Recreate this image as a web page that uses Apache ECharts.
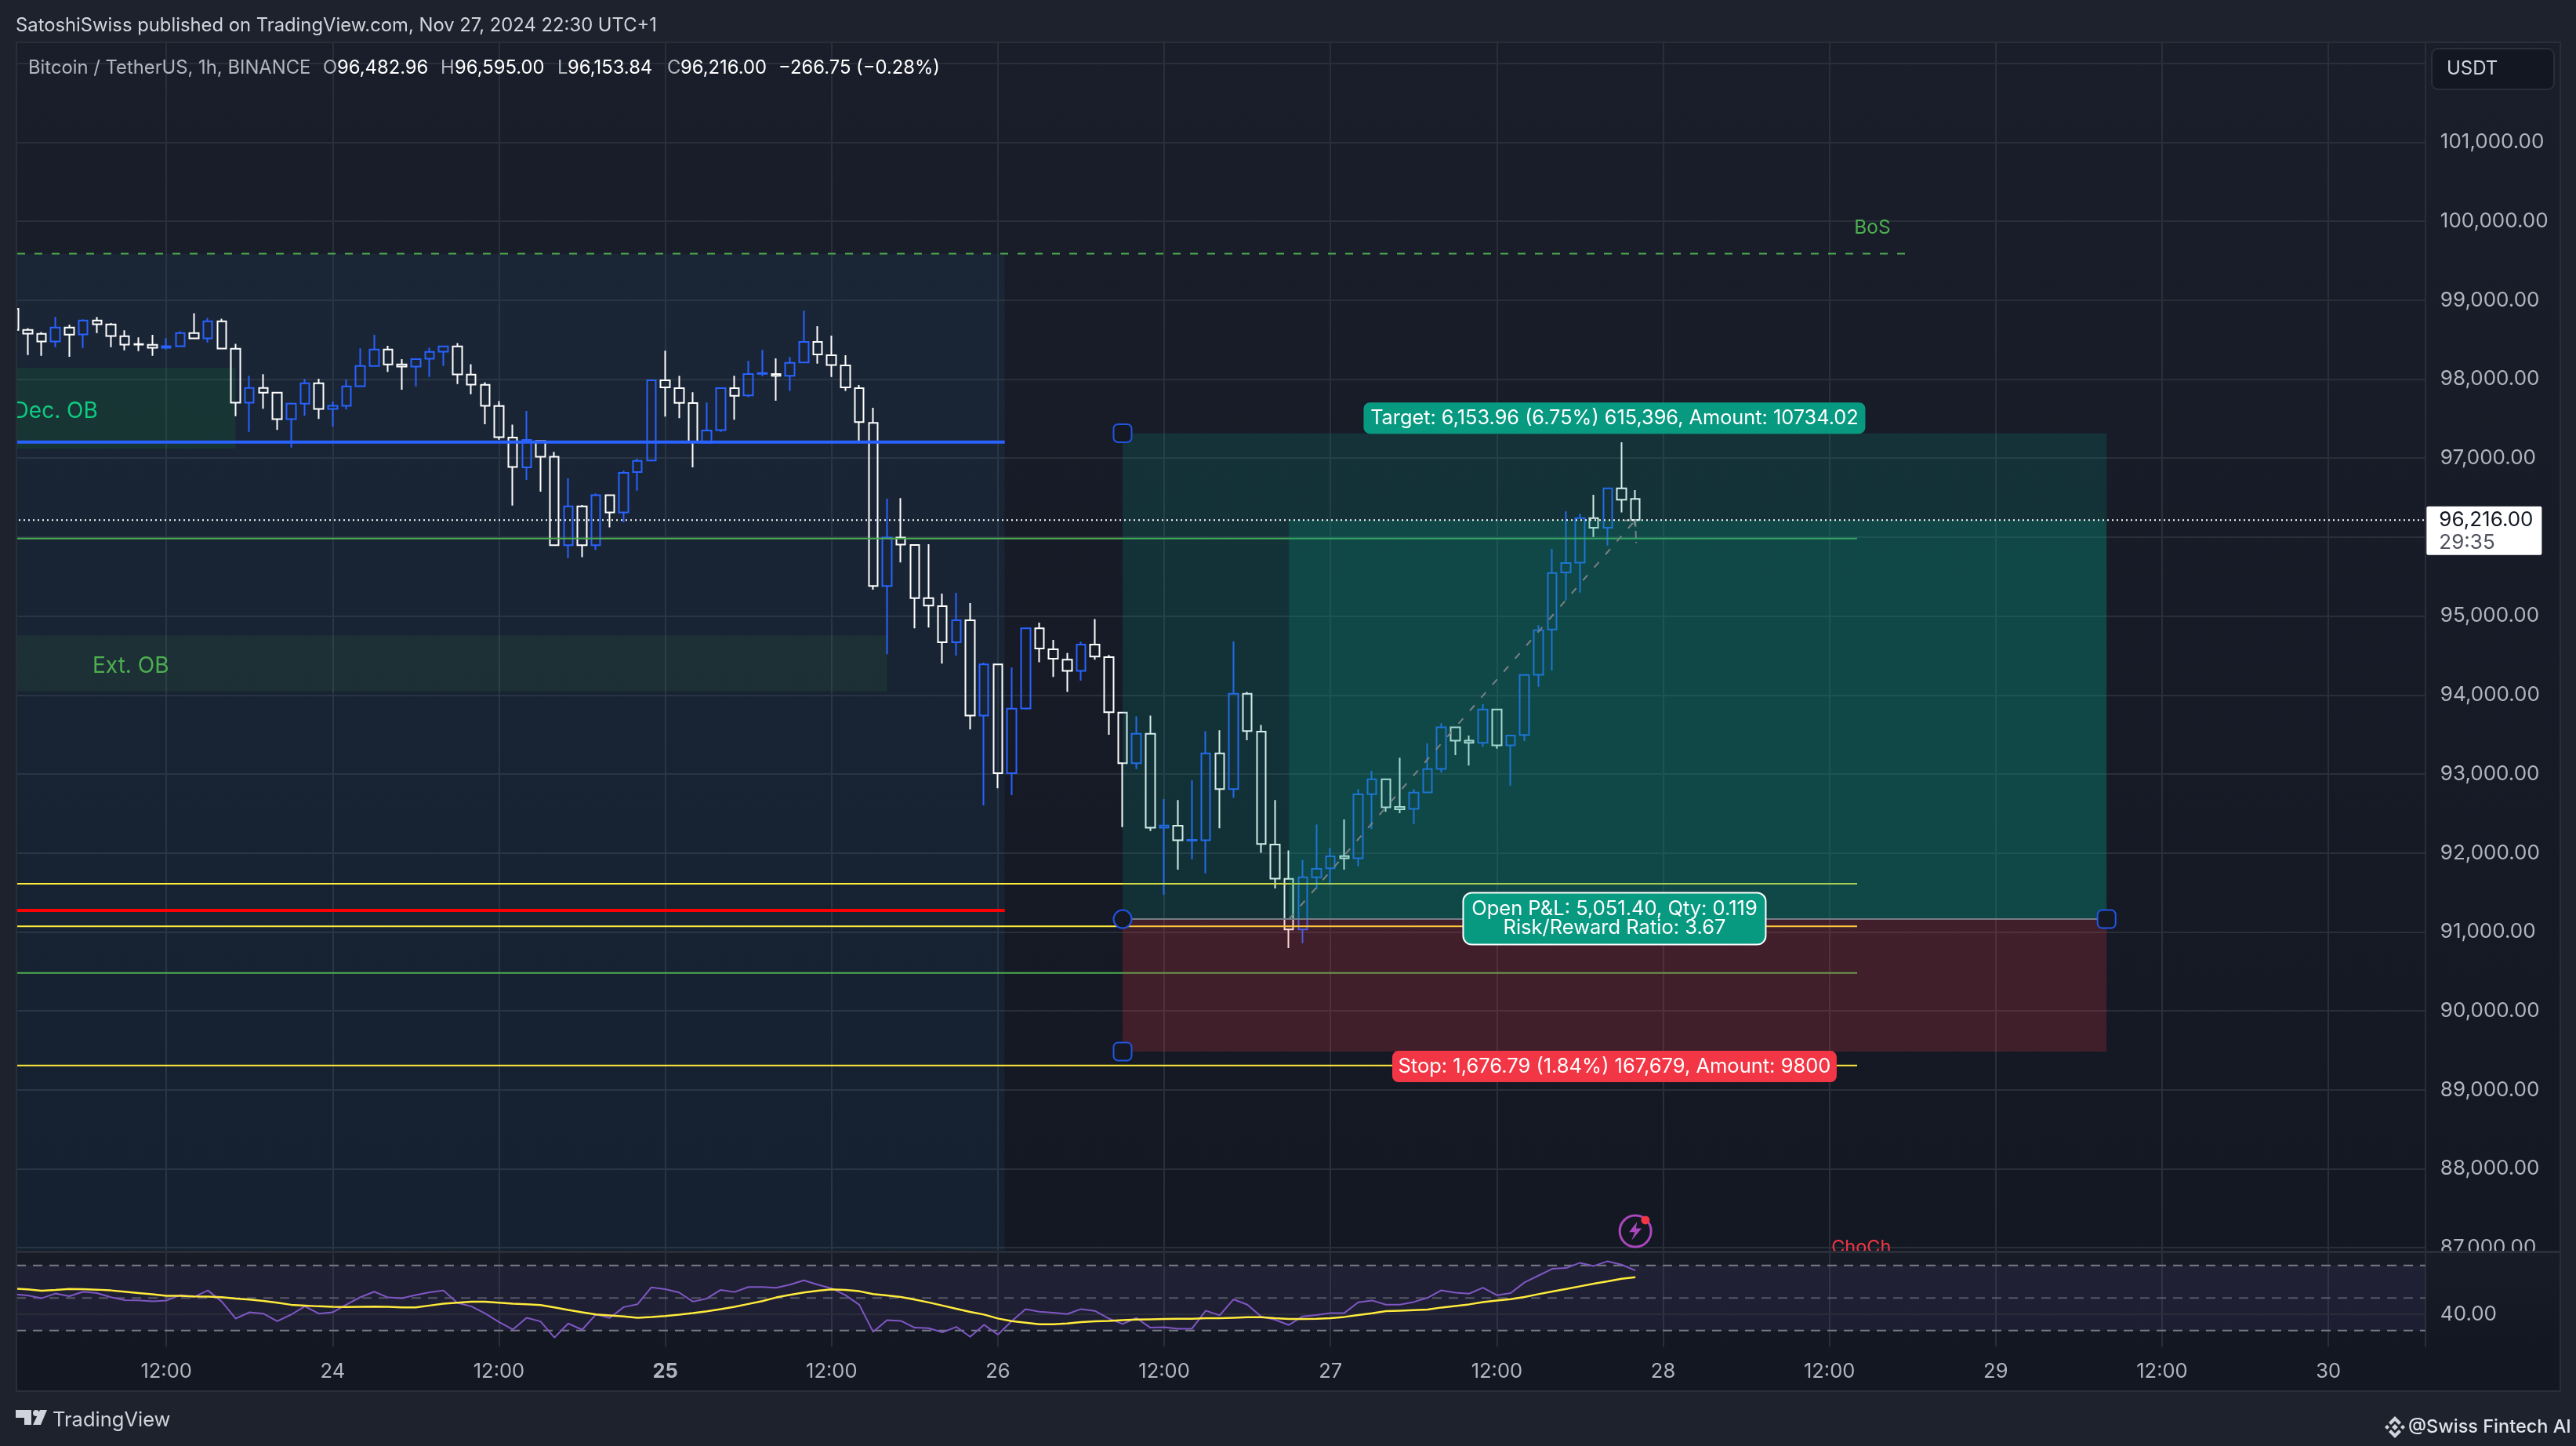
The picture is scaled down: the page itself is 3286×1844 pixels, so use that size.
<!DOCTYPE html>
<html><head><meta charset="utf-8">
<style>html,body{margin:0;padding:0;background:#1e222d}#c{width:3286px;height:1844px}</style>
<script src="https://cdn.jsdelivr.net/npm/echarts@6/dist/echarts.min.js"></script>
</head><body><div id="c"></div>
<script>
// Hours are counted from Nov 23 12:00; first bar index is -11.
const firstHour = -11;
const opens = [98888,98623,98573,98477,98652,98566,98742,98692,98543,98444,98434,98397,98417,98583,98517,98732,98384,97702,97888,97828,97494,97689,97947,97623,97663,97911,98166,98374,98186,98159,98259,98348,98414,98057,97928,97660,97259,96884,97215,97017,95896,96388,95896,96530,96313,96822,96969,97984,97886,97696,97195,97354,97886,97793,98068,98064,98041,98210,98471,98303,98175,97886,97447,95382,95993,95900,95227,95125,94668,94947,93741,94389,93010,93830,94845,94579,94448,94306,94639,94480,93777,93136,93508,92320,92345,92157,92160,93260,92809,94015,93536,92107,91671,91032,91692,91805,91961,91933,92745,92933,92582,92557,92767,93065,93590,93423,93395,93817,93363,93494,94256,94830,95552,95677,96240,96118,96617,96482.96];
const closes = [98623,98576,98477,98652,98563,98742,98695,98547,98437,98437,98397,98417,98583,98517,98732,98388,97702,97888,97828,97494,97689,97947,97623,97663,97908,98166,98374,98186,98159,98252,98345,98414,98060,97931,97663,97266,96888,97230,97017,95896,96388,95896,96530,96313,96813,96964,97984,97895,97700,97208,97350,97886,97789,98064,98077,98041,98205,98471,98312,98179,97895,97456,95382,95993,95905,95227,95133,94668,94947,93741,94389,93010,93826,94845,94588,94459,94306,94639,94487,93781,93136,93508,92320,92348,92160,92167,93260,92809,94015,93543,92114,91674,91032,91692,91798,91958,91933,92742,92933,92579,92554,92763,93061,93590,93423,93395,93817,93363,93487,94253,94820,95545,95671,96240,96118,96617,96472,96216];
const highs = [98900,98646,98596,98788,98689,98758,98788,98709,98619,98530,98560,98520,98606,98834,98775,98765,98447,98043,98063,97828,97702,98004,98004,97716,97994,98391,98560,98421,98252,98252,98397,98414,98457,98189,97961,97722,97424,97598,97215,97079,96743,96406,96552,96530,96840,96991,97984,98361,98041,97833,97704,97886,98041,98232,98369,98263,98281,98866,98671,98551,98303,97926,97638,96485,96494,95900,95909,95284,95293,95164,94411,94389,94349,94845,94916,94699,94533,94675,94962,94508,93777,93731,93739,92682,92671,92919,93540,93554,94678,94040,93621,92671,92032,91912,92359,92064,92423,92806,93040,92933,93207,92809,93387,93643,93600,93487,93884,93817,93487,94253,94884,95849,96323,96296,96535,96617,97200,96595];
const lows = [98610,98305,98295,98404,98282,98394,98583,98404,98364,98354,98295,98374,98417,98517,98464,98388,97530,97332,97626,97358,97133,97537,97497,97398,97616,97911,98166,98093,97865,97908,98027,98166,97937,97808,97428,97232,96398,96725,96574,95896,95736,95745,95834,96122,96188,96587,96969,97527,97505,96884,97195,97332,97487,97771,98037,97727,97851,98210,98197,98028,97851,97208,95333,94517,95679,94845,94854,94397,94499,93564,92602,92819,92731,93817,94415,94229,94040,94182,94448,93497,92327,93061,92277,91468,91788,91919,91741,92313,92696,93426,92001,91550,90795,90858,91539,91593,91788,91830,92302,92522,92504,92366,92767,93018,93238,93107,93345,93320,92852,93416,94104,94310,95197,95297,96002,95892,96313,96153.84];
const rsi = [52.24,51.6,49.84,52.72,51.12,53.84,53.04,50.48,48.72,48.56,47.92,48.4,51.76,50.64,54.64,47.76,37.36,41.2,40.4,35.76,39.76,44.88,40.4,41.2,46,50.48,53.84,50.32,49.84,51.76,53.52,54.64,46.96,44.88,40.56,35.28,30.64,37.84,35.6,25.68,34.32,30.48,39.92,37.68,44.4,46.16,56.56,55.44,53.36,47.76,49.68,54.96,53.68,56.72,56.72,56.24,58.16,60.88,58.16,55.92,51.76,45.84,29.2,36.4,35.92,31.76,31.44,28.88,32.26,26.16,33.55,27.45,35.8,43.18,41.58,40.94,40.13,43.18,42.06,37.4,34.03,37.72,31.78,32.1,31.14,31.14,42.22,39.33,49.13,45.92,38.53,36.6,33.39,38.69,39.49,40.78,40.78,47.36,48.48,45.92,45.92,47.52,50.09,54.75,53.3,52.66,56.35,51.7,52.98,59.56,63.74,67.92,68.4,71.61,69.68,72.57,70.49,66.95];
const rsiMa = [55.76,55.28,54.48,54.96,55.6,55.44,55.12,54.64,53.84,53.04,52.24,51.28,51.28,50.96,50.8,50.48,49.68,49.04,48.24,47.12,45.84,45.36,44.88,44.56,44.4,44.56,44.72,44.56,44.24,44.24,45.36,46.48,47.12,47.76,47.76,47.12,46.48,46.16,45.68,44.24,42.64,41.2,39.92,39.28,38.64,37.84,38.32,38.96,39.76,40.72,41.84,43.12,44.56,46.32,48.08,50.32,51.92,53.36,54.48,55.28,54.96,54.16,52.4,51.6,50.64,49.04,47.28,45.36,43.35,41.42,39.81,37.4,35.8,34.83,33.87,33.87,34.35,35.15,35.64,35.96,36.44,36.76,36.92,37.08,37.24,37.24,37.56,37.56,37.89,38.21,38.21,37.56,37.08,37.08,37.24,37.56,38.37,39.49,40.61,41.9,42.22,42.54,42.86,44.15,45.11,46.08,47.52,48.48,49.29,50.57,52.34,53.95,55.55,57.16,58.76,60.21,61.81,62.78];

const tickHours = [0,12,24,36,48,60,72,84,96,108,120,132,144,156];
const tickLabels = ['12:00','24','12:00','25','12:00','26','12:00','27','12:00','28','12:00','29','12:00','30'];

const lastPrice = 96216;
const entryPrice = 91162, targetPrice = 97316, stopPrice = 89485;
const toolStart = 69, toolFill = 81, toolEnd = 140, lastBar = 106;
const hMin = -12, hMax = 163;

// price levels: price, start hour, end hour
const blueLevel = [97202, hMin, 60.5];
const redLevel = [91272, hMin, 60.5];
const greenLevels = [[95981, hMin, 122],[90480, hMin, 122]];
const yellowLevels = [[91610, hMin, 122],[91072, hMin, 122],[89308, hMin, 122]];
const bosLevel = [99590, hMin, 126];
const trendHours = [81, 106], trendPrices = [91162, 96216];
const arrowHours = [105.2, 106, 106.05], arrowPrices = [96210, 96216, 95924];

// zones: hour from, hour to, price top, price bottom
const bandZone = [hMin, 60.5, 99590, 86950];
const decZone = [hMin, 5, 98143, 97120];
const extZone = [hMin, 52, 94755, 94048];
const rsiLevels = [70, 50, 30];

const FONT = 'Inter';
const TXT = '#b2b5be';
const GRID = '#2a2e39';
const BLUE = '#2962ff', TEAL = '#089981', RED = '#f23645';

const hours = opens.map((_, i) => i + firstHour);
const candles = hours.map((h, i) => [h, opens[i], closes[i], lows[i], highs[i]]);

function rectSeries(name, xAxisIndex, yAxisIndex, zone, color, z) {
  return {
    type: 'custom', name, xAxisIndex, yAxisIndex, z, silent: true, clip: false,
    encode: { x: [0, 1], y: [2, 3] },
    data: [zone],
    renderItem: (p, api) => {
      const a = api.coord([api.value(0), api.value(2)]);
      const b = api.coord([api.value(1), api.value(3)]);
      return { type: 'rect', shape: { x: a[0], y: a[1], width: b[0] - a[0], height: b[1] - a[1] }, style: { fill: color } };
    }
  };
}
function lineSeries(name, xs, ys, color, width, z, type, axis) {
  const ax = axis === undefined ? 1 : axis;
  return {
    type: 'line', name, xAxisIndex: ax, yAxisIndex: ax, z, silent: true, showSymbol: false, symbol: 'none',
    lineStyle: { color, width, type: type || 'solid', cap: 'butt' },
    data: xs.map((x, i) => [x, ys[i]])
  };
}
function level(name, lv, color, width, z, type) {
  return lineSeries(name, [lv[1], lv[2]], [lv[0], lv[0]], color, width, z, type);
}
function textMark(name, h, price, label, z) {
  return {
    type: 'scatter', name, xAxisIndex: 1, yAxisIndex: 1, z: z || 6, silent: true, clip: false,
    symbolSize: 1, itemStyle: { color: 'transparent', opacity: 1 },
    data: [[h, price]],
    label: Object.assign({ show: true, position: 'inside', fontFamily: FONT, color: '#fff', fontSize: 25.5 }, label)
  };
}
function handle(name, h, price, symbol) {
  return {
    type: 'scatter', name, xAxisIndex: 1, yAxisIndex: 1, z: 6, silent: true, clip: false,
    symbol, symbolSize: 23,
    itemStyle: { color: '#151924', borderColor: '#2156e5', borderWidth: 2, opacity: 1 },
    data: [[h, price]]
  };
}

const xBase = { type: 'value', min: hMin, max: hMax, interval: 12, axisLine: { show: false }, axisTick: { show: false } };
const vSplit = { show: true, lineStyle: { color: GRID, width: 2 } };

const series = [
  rectSeries('Band', 1, 1, bandZone, 'rgba(40,150,220,0.07)', 1),
  rectSeries('Dec. OB zone', 1, 1, decZone, 'rgba(20,200,60,0.10)', 1),
  rectSeries('Ext. OB zone', 1, 1, extZone, 'rgba(76,175,80,0.09)', 1),
  {
    type: 'candlestick', name: 'BTCUSDT', xAxisIndex: 1, yAxisIndex: 1, z: 2, silent: true,
    barWidth: 12, clip: true,
    itemStyle: { color: 'transparent', color0: 'transparent', borderColor: BLUE, borderColor0: '#ffffff', borderColorDoji: '#ffffff', borderWidth: 2 },
    data: candles
  },
  level('Blue level', blueLevel, BLUE, 4, 3),
  level('Red level', redLevel, '#ff0000', 4, 3),
  ...greenLevels.map((l, i) => level('Green level ' + i, l, '#4caf50', 2, 3)),
  ...yellowLevels.map((l, i) => level('Yellow level ' + i, l, '#ffeb3b', 2, 3)),
  level('BoS', bosLevel, '#4caf50', 2, 3, [10, 12]),
  rectSeries('Target zone', 1, 1, [toolStart, toolEnd, targetPrice, entryPrice], 'rgba(8,153,129,0.185)', 4),
  rectSeries('Profit zone', 1, 1, [toolFill, toolEnd, lastPrice, entryPrice], 'rgba(8,153,129,0.225)', 4),
  rectSeries('Stop zone', 1, 1, [toolStart, toolEnd, entryPrice, stopPrice], 'rgba(242,54,69,0.20)', 4),
  lineSeries('Entry', [toolStart, toolEnd], [entryPrice, entryPrice], '#787b86', 2, 5),
  lineSeries('Trend', trendHours, trendPrices, '#7d8185', 2, 5, [9, 13]),
  lineSeries('Arrow', arrowHours, arrowPrices, '#7d8185', 2, 5, [9, 5]),
  lineSeries('Last price', [hMin, hMax], [lastPrice, lastPrice], '#ffffff', 2, 5, [2, 4]),
  handle('Handle target', toolStart, targetPrice, 'roundRect'),
  handle('Handle entry', toolStart, entryPrice, 'circle'),
  handle('Handle stop', toolStart, stopPrice, 'roundRect'),
  handle('Handle right', toolEnd, entryPrice, 'roundRect'),
  textMark('Target label', 104.49, 97507, { formatter: 'Target: 6,153.96 (6.75%) 615,396, Amount: 10734.02', backgroundColor: TEAL, borderRadius: 8, width: 640, height: 40, lineHeight: 40, align: 'center', verticalAlign: 'middle', fontSize: 25.3 }),
  textMark('PnL label', 104.49, 91167, { formatter: 'Open P&L: 5,051.40, Qty: 0.119\nRisk/Reward Ratio: 3.67', backgroundColor: TEAL, borderColor: '#fff', borderWidth: 2, borderRadius: 10, width: 384, height: 48, lineHeight: 24, padding: [11, 0, 5, 0], align: 'center', verticalAlign: 'middle' }),
  textMark('Stop label', 104.49, 89295, { formatter: 'Stop: 1,676.79 (1.84%) 167,679, Amount: 9800', backgroundColor: RED, borderRadius: 8, width: 567, height: 40, lineHeight: 40, align: 'center', verticalAlign: 'middle' }),
  textMark('Dec label', -8.0, 97597, { formatter: 'Dec. OB', color: '#0ecb81', fontSize: 28 }),
  textMark('Ext label', -2.57, 94369, { formatter: 'Ext. OB', color: '#4caf50', fontSize: 28 }),
  textMark('BoS label', 123.1, 99920, { formatter: 'BoS', color: '#4caf50', fontSize: 24.5 }),
  textMark('ChoCh label', 122.3, 87000, { formatter: 'ChoCh', color: '#f23645', fontSize: 23.5 }),
  textMark('Last label', hMax, lastPrice, {
    position: [2, -17], align: 'left', verticalAlign: 'top',
    formatter: '{a|96,216.00}\n{b|29:35}', backgroundColor: '#fff', borderRadius: 2, padding: [3, 0, 0, 16], width: 131, height: 59,
    rich: { a: { color: '#131722', fontFamily: FONT, fontSize: 26, lineHeight: 30 }, b: { color: '#50535e', fontFamily: FONT, fontSize: 26, lineHeight: 28 } }
  }, 7),
  {
    type: 'scatter', name: 'Alert ring', xAxisIndex: 1, yAxisIndex: 1, z: 6, silent: true, clip: false,
    symbol: 'circle', symbolSize: 40,
    itemStyle: { color: 'transparent', borderColor: '#ab47bc', borderWidth: 3, opacity: 1 }, data: [[lastBar, 87210]]
  },
  {
    type: 'scatter', name: 'Alert bolt', xAxisIndex: 1, yAxisIndex: 1, z: 6, silent: true, clip: false,
    symbol: 'path://M7 0 L0 11 L5 11 L2 20 L11 7 L6 7 Z', symbolSize: [16, 24],
    itemStyle: { color: '#ab47bc', opacity: 1 }, data: [[lastBar, 87210]]
  },
  {
    type: 'scatter', name: 'Alert dot', xAxisIndex: 1, yAxisIndex: 1, z: 6, silent: true, clip: false,
    symbol: 'circle', symbolSize: 11, itemStyle: { color: '#f23645', opacity: 1 }, data: [[106.72, 87350]]
  },
  rectSeries('RSI band', 2, 2, [hMin, hMax, 70, 30], 'rgba(126,87,194,0.10)', 9),
  lineSeries('RSI 40', [hMin, hMax], [40, 40], GRID, 2, 9, 'solid', 2),
  lineSeries('RSI 70', [hMin, hMax], [rsiLevels[0], rsiLevels[0]], '#787b86', 2, 10, [12, 9], 2),
  lineSeries('RSI 50', [hMin, hMax], [rsiLevels[1], rsiLevels[1]], 'rgba(120,123,134,0.6)', 2, 10, [12, 9], 2),
  lineSeries('RSI 30', [hMin, hMax], [rsiLevels[2], rsiLevels[2]], '#787b86', 2, 10, [12, 9], 2),
  lineSeries('RSI', hours, rsi, '#7e57c2', 2, 10, 'solid', 2),
  lineSeries('RSI MA', hours, rsiMa, '#ffeb3b', 2.5, 11, 'solid', 2)
];

function t(text, x, y, size, fill, extra) {
  return { type: 'text', z: 13, x, y, style: Object.assign({ text, fill, fontFamily: FONT, fontSize: size, verticalAlign: 'middle', align: 'left' }, extra || {}) };
}
function poly(points, fill) { return { type: 'polygon', z: 13, shape: { points }, style: { fill } }; }
function box(x, y, w, h, fill, z) { return { type: 'rect', z, shape: { x, y, width: w, height: h }, style: { fill } }; }

const grad = (a, b) => ({ type: 'linear', x: 0, y: 0, x2: 0, y2: 1, colorStops: [{ offset: 0, color: a }, { offset: 1, color: b }] });

const graphics = [
  box(21, 54, 3245, 1720, grad('#1a1e2a', '#131722'), -1),
  box(21, 1596, 3245, 121, grad('#181c26', '#131722'), 8),
  box(21, 1595, 3245, 3, GRID, 9),
  box(0, 0, 20, 1844, '#1e222d', 12),
  box(0, 0, 3286, 53, '#1e222d', 12),
  box(3267, 0, 19, 1844, '#1e222d', 12),
  box(0, 1775, 3286, 69, '#1e222d', 12),
  box(20, 53, 3247, 2, GRID, 12),
  box(20, 53, 2, 1722, GRID, 12),
  box(3265, 53, 2, 1722, GRID, 12),
  box(20, 1773, 3247, 2, GRID, 12),
  t('SatoshiSwiss published on TradingView.com, Nov 27, 2024 22:30 UTC+1', 20, 33, 23.8, '#d1d4dc'),
  t('Bitcoin / TetherUS, 1h, BINANCE', 36, 87, 23.8, TXT),
  t('O', 412, 87, 23.8, TXT), t('96,482.96', 430, 87, 23.8, '#fff'),
  t('H', 562, 87, 23.8, TXT), t('96,595.00', 580, 87, 23.8, '#fff'),
  t('L', 711, 87, 23.8, TXT), t('96,153.84', 724, 87, 23.8, '#fff'),
  t('C', 851, 87, 23.8, TXT), t('96,216.00', 868, 87, 23.8, '#fff'),
  t('\u2212266.75 (\u22120.28%)', 993, 87, 23.8, '#fff'),
  { type: 'rect', z: 13, shape: { x: 3102, y: 62, width: 156, height: 52, r: 8 }, style: { fill: '#131722', stroke: GRID, lineWidth: 2 } },
  t('USDT', 3121, 88, 24, '#d1d4dc'),
  poly([[20, 1798], [40, 1798], [40, 1817], [31, 1817], [31, 1808], [20, 1808]], '#d1d4dc'),
  { type: 'circle', z: 13, shape: { cx: 46, cy: 1802, r: 4 }, style: { fill: '#d1d4dc' } },
  poly([[51, 1798], [60, 1798], [52, 1817], [42, 1817]], '#d1d4dc'),
  t('TradingView', 67, 1811, 25.5, '#d1d4dc'),
  poly([[3055, 1806], [3063, 1814], [3060, 1817], [3055, 1812], [3050, 1817], [3047, 1814]], '#d1d4dc'),
  poly([[3055, 1834], [3063, 1826], [3060, 1823], [3055, 1828], [3050, 1823], [3047, 1826]], '#d1d4dc'),
  poly([[3055, 1816], [3059, 1820], [3055, 1824], [3051, 1820]], '#d1d4dc'),
  poly([[3045, 1817], [3048, 1820], [3045, 1823], [3042, 1820]], '#d1d4dc'),
  poly([[3065, 1817], [3068, 1820], [3065, 1823], [3062, 1820]], '#d1d4dc'),
  t('@Swiss Fintech AI', 3072, 1820, 23.5, '#e0e3eb', { fontWeight: 500 })
];

const chart = echarts.init(document.getElementById('c'), null, { renderer: 'canvas', width: 3286, height: 1844 });
chart.setOption({
  animation: false,
  backgroundColor: '#1e222d',
  textStyle: { fontFamily: FONT },
  grid: [
    { left: -1.2, width: 3095.05, top: 54, height: 1663 },
    { left: -1.2, width: 3095.05, top: 80.7, height: 1510.5 },
    { left: -1.2, width: 3095.05, top: 1593, height: 124.5 }
  ],
  xAxis: [
    Object.assign({}, xBase, {
      gridIndex: 0, z: 0, splitLine: vSplit,
      axisLabel: {
        show: true, margin: 19, color: TXT, fontFamily: FONT, fontSize: 25.5, showMaxLabel: false, showMinLabel: false,
        formatter: v => {
          const i = tickHours.indexOf(v);
          if (i < 0) return '';
          return tickLabels[i] === '25' ? '{b|25}' : tickLabels[i];
        },
        rich: { b: { fontWeight: 700, color: TXT, fontFamily: FONT, fontSize: 25.5 } }
      }
    }),
    Object.assign({}, xBase, { gridIndex: 1, show: false }),
    Object.assign({}, xBase, { gridIndex: 2, z: 9, splitLine: vSplit, axisLabel: { show: false } })
  ],
  yAxis: [
    { type: 'value', gridIndex: 0, show: false, min: 0, max: 1 },
    {
      type: 'value', gridIndex: 1, position: 'right', min: 87000, max: 102000, interval: 1000, z: 0,
      axisLine: { show: false }, axisTick: { show: false },
      splitLine: { show: true, showMaxLine: true, lineStyle: { color: GRID, width: 2 } },
      axisLabel: {
        show: true, margin: 19, color: TXT, fontFamily: FONT, fontSize: 26, showMaxLabel: false,
        formatter: v => v.toLocaleString('en-US', { minimumFractionDigits: 2, maximumFractionDigits: 2 })
      }
    },
    {
      type: 'value', gridIndex: 2, position: 'right', min: 20, max: 80, interval: 20, z: 9,
      axisLine: { show: false }, axisTick: { show: false }, splitLine: { show: false },
      axisLabel: {
        show: true, margin: 19, color: TXT, fontFamily: FONT, fontSize: 26,
        formatter: v => v === 40 ? '40.00' : ''
      }
    }
  ],
  series,
  graphic: { elements: graphics }
});
</script></body></html>
